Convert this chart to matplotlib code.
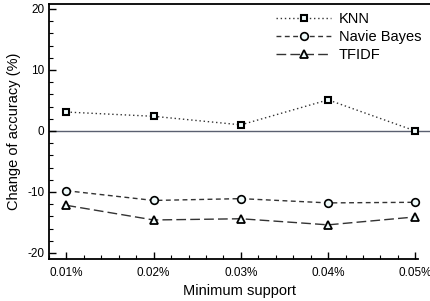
import matplotlib
matplotlib.use("Agg")
import matplotlib.pyplot as plt
from matplotlib.ticker import MultipleLocator

support = [0.01, 0.02, 0.03, 0.04, 0.05]
knn = [3.1, 2.4, 1.0, 5.1, 0.0]
naive_bayes = [-9.8, -11.4, -11.1, -11.8, -11.7]
tfidf = [-12.2, -14.6, -14.4, -15.4, -14.1]
xtick_labels = ["0.01%", "0.02%", "0.03%", "0.04%", "0.05%"]

plt.rcParams['font.family'] = ['Liberation Sans', 'DejaVu Sans']
plt.rcParams['axes.unicode_minus'] = False

fig = plt.figure(figsize=(4.31, 3.01), dpi=100)
W, H = 431, 301
ax = fig.add_axes([49 / W, 1 - 259 / H, (431 - 49) / W, (259 - 3.5) / H])

fill = '#eefafa'
ax.axhline(0, color='#5a6070', lw=1.0, zorder=1)
ax.plot(support, knn, linestyle=(0, (1, 2)), color='#333333', lw=1.0,
        marker='s', markersize=5, markerfacecolor=fill, markeredgecolor='black',
        markeredgewidth=1.5, label='KNN', zorder=3)
ax.plot(support, naive_bayes, linestyle=(0, (3.5, 2.5)), color='#333333', lw=1.0,
        marker='o', markersize=5.5, markerfacecolor=fill, markeredgecolor='black',
        markeredgewidth=1.2, label='Navie Bayes', zorder=3)
ax.plot(support, tfidf, linestyle=(0, (7, 3)), color='#333333', lw=1.0,
        marker='^', markersize=6, markerfacecolor=fill, markeredgecolor='black',
        markeredgewidth=1.3, label='TFIDF', zorder=3)

ax.set_xlim(0.008, 0.0518)
ax.set_ylim(-21, 20.9)
ax.set_xticks(support)
ax.set_xticklabels(xtick_labels)
ax.xaxis.set_minor_locator(MultipleLocator(0.002))
ax.set_yticks([-20, -10, 0, 10, 20])
ax.yaxis.set_minor_locator(MultipleLocator(2))
ax.tick_params(which='both', direction='in', top=False, right=False, labelsize=8.5)
ax.tick_params(which='major', length=5, width=1)
ax.tick_params(which='minor', length=3, width=0.8)
ax.tick_params(axis='x', pad=6)

ax.spines['right'].set_visible(False)
ax.spines['bottom'].set_bounds(0.008, 0.05035)
for s in ['top', 'left', 'bottom']:
    ax.spines[s].set_linewidth(1.3)

ax.set_xlabel('Minimum support', fontsize=10.5, labelpad=3)
ax.set_ylabel('Change of accuracy (%)', fontsize=10.5, labelpad=4)

leg = ax.legend(loc='upper left', bbox_to_anchor=(0.567, 1.008), frameon=False,
                fontsize=10.5, handlelength=3.8, handletextpad=0.5, labelspacing=0.3,
                borderaxespad=0.3)

fig.savefig('out.png', dpi=100)
